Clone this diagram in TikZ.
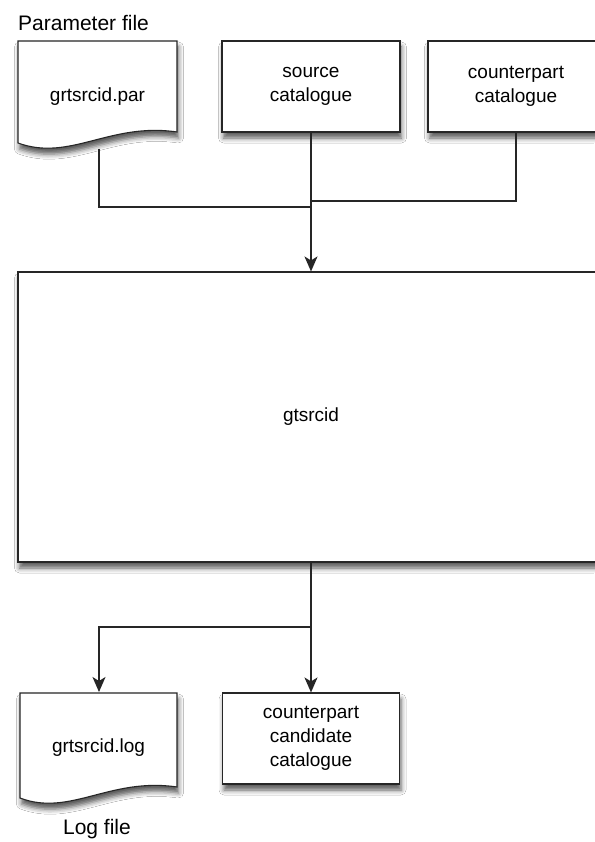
\documentclass[tikz,border=0pt]{standalone}
\usepackage{fontspec}
\setmainfont{Liberation Sans}
\usetikzlibrary{arrows.meta,shadows.blur}
\begin{document}
\begin{tikzpicture}[x=1pt,y=-1pt,
  shad/.style={blur shadow={shadow xshift=1.5pt,shadow yshift=-6pt,shadow blur radius=5pt,shadow opacity=65}},
  box/.style={draw=black!85,line width=1.1pt,fill=white,shad},
  lbl/.style={font=\fontsize{21}{24}\selectfont,inner sep=0pt},
  txt/.style={font=\fontsize{19}{24}\selectfont,align=center,inner sep=0pt},
  conn/.style={line width=1.4pt,draw=black!85},
  arr/.style={conn,-{Stealth[length=15pt,width=13pt,inset=4pt]}}]
\useasboundingbox[fill=white] (0,0) rectangle (594,842);

% top label
\node[lbl,anchor=base west] (plabel) at (18,31) {Parameter file};

% parameter document shape
\path[box] (18,41) -- (177,41) -- (177,132) .. controls (110,122) and (70,162) .. (18,143) -- cycle;
\node[txt] (par) at (97.5,97) {grtsrcid.par};
\coordinate (parb) at (99,149);

% source and counterpart boxes
\node[box,txt,minimum width=178pt,minimum height=91pt] (src) at (311,86.5) {source\\catalogue};
\node[box,txt,minimum width=176pt,minimum height=91pt] (cpt) at (516,86.5) {counterpart\\catalogue};

% main box
\node[box,txt,minimum width=586pt,minimum height=290pt] (main) at (311,417) {gtsrcid};

% joins
\coordinate (j1) at (311,207);
\coordinate (j2) at (311,201);
\draw[conn] (parb) |- (j1);
\draw[conn] (cpt.south) |- (j2);
\draw[arr] (src.south) -- (main.north);

% bottom
\path[box] (20,693) -- (177,693) -- (177,787) .. controls (110,777) and (70,817) .. (20,798) -- cycle;
\node[txt] (log) at (98.5,748) {grtsrcid.log};
\coordinate (logtop) at (99,692);
\node[lbl,anchor=base] (loglabel) at (97,834) {Log file};

\node[box,txt,minimum width=177pt,minimum height=91pt] (cand) at (311,738.5) {counterpart\\candidate\\catalogue};

\coordinate (j3) at (311,627);
\draw[arr] (main.south) -- (cand.north);
\draw[arr] (j3) -| (logtop);
\end{tikzpicture}
\end{document}
